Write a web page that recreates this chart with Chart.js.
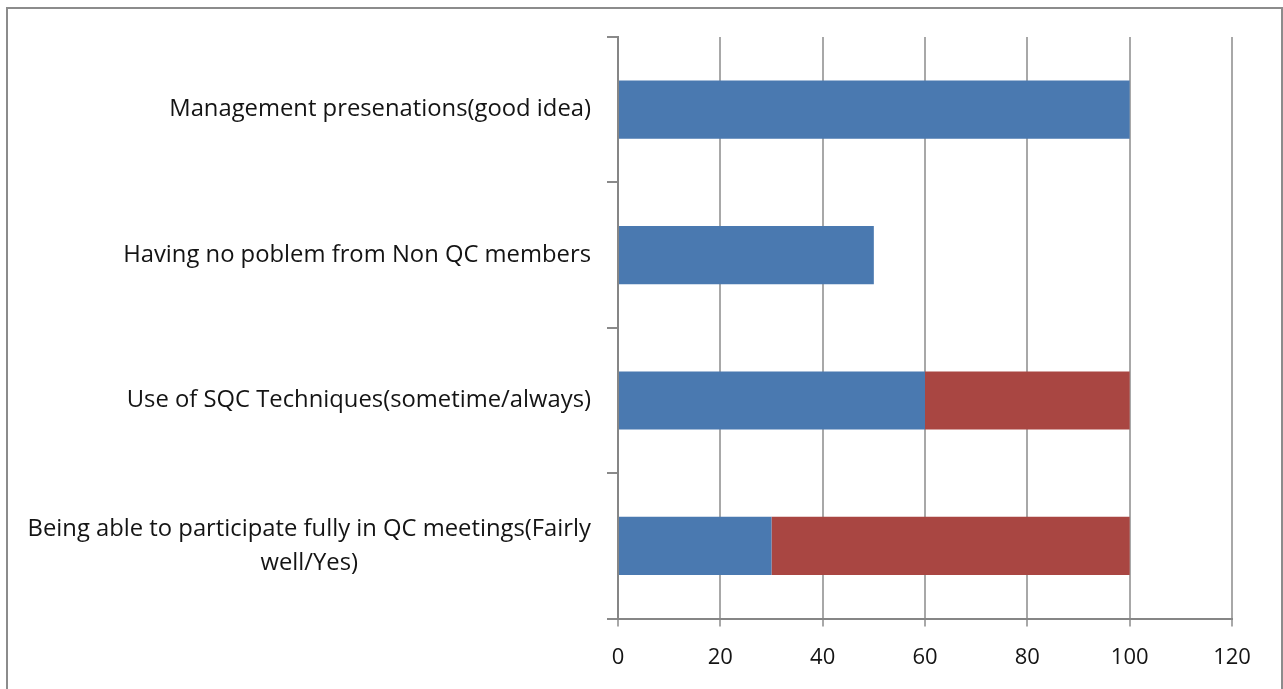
<!DOCTYPE html>
<html>
<head>
<meta charset="utf-8">
<title>QC survey</title>
<script src="https://cdn.jsdelivr.net/npm/chart.js"></script>
<style>
    body { margin: 0; background: #fff; }
    #frame {
        position: absolute; left: 6px; top: 7px;
        width: 1273px; height: 720px;
        border: 2px solid #8c8c8c; border-bottom: none;
    }
    #chart { position: absolute; left: 0; top: 0; }
</style>
</head>
<body>
<div id="frame"></div>
<canvas id="chart" width="1283" height="689"></canvas>
<script>
// Survey items (top to bottom) and the two stacked answer shares
const categories = [
    "Management presenations(good idea)",
    "Having no poblem from Non QC members",
    "Use of SQC Techniques(sometime/always)",
    ["Being able to participate fully in QC meetings(Fairly", "well/Yes)"]
];
const blueValues = [100, 50, 60, 30];
const redValues = [0, 0, 40, 70];

// Value axis ticks
const xMin = 0;
const xMax = 120;
const xStep = 20;

const labelFont = "23.8px 'Open Sans'";
const labelRight = 591;
const lineGap = 34;

// Category labels: block right-aligned next to the axis, lines centred inside the block
const categoryLabels = {
    id: "categoryLabels",
    afterDraw(chart) {
        const ctx = chart.ctx;
        const yScale = chart.scales.y;
        ctx.save();
        ctx.font = labelFont;
        ctx.fillStyle = "#141414";
        ctx.textAlign = "center";
        ctx.textBaseline = "middle";
        categories.forEach((label, i) => {
            const lines = Array.isArray(label) ? label : [label];
            const widest = Math.max(...lines.map(l => ctx.measureText(l).width));
            const cx = labelRight - widest / 2;
            const cy = yScale.getPixelForValue(i);
            lines.forEach((line, j) => {
                ctx.fillText(line, cx, cy + (j - (lines.length - 1) / 2) * lineGap);
            });
        });
        ctx.restore();
    }
};

new Chart(document.getElementById("chart"), {
    type: "bar",
    data: {
        labels: categories,
        datasets: [
            { label: "Series1", data: blueValues, backgroundColor: "#4a79b0" },
            { label: "Series2", data: redValues, backgroundColor: "#a94642" }
        ]
    },
    options: {
        indexAxis: "y",
        responsive: false,
        animation: false,
        layout: { padding: { left: 607, top: 37, right: 51, bottom: 0 } },
        datasets: {
            bar: { barPercentage: 0.4, categoryPercentage: 1.0, borderWidth: 0 }
        },
        plugins: { legend: { display: false }, tooltip: { enabled: false } },
        scales: {
            x: {
                stacked: true,
                min: xMin,
                max: xMax,
                ticks: {
                    stepSize: xStep,
                    color: "#141414",
                    font: { family: "'Open Sans'", size: 22 },
                    padding: 18
                },
                grid: { color: "#a8a8a8", lineWidth: 2, tickLength: 8 },
                border: { color: "#868686", width: 2 }
            },
            y: {
                stacked: true,
                ticks: { display: false },
                grid: { drawOnChartArea: false, color: "#8a8a8a", lineWidth: 2, tickLength: 11 },
                border: { color: "#868686", width: 2 }
            }
        }
    },
    plugins: [categoryLabels]
});
</script>
</body>
</html>
